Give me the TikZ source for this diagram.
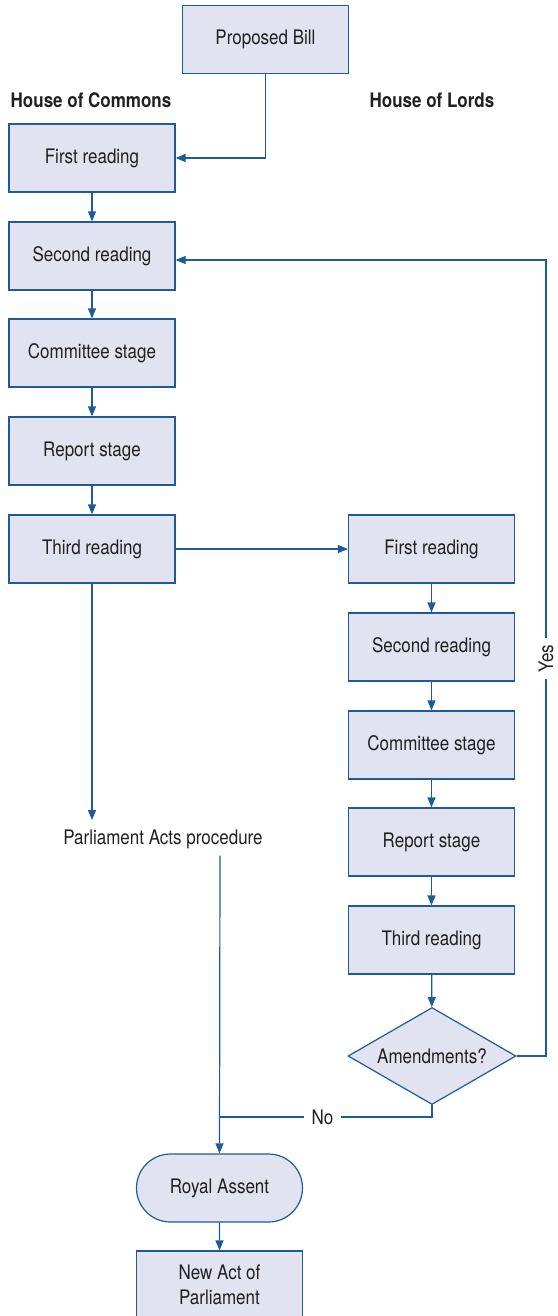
\documentclass[tikz,border=0pt]{standalone}
\usepackage{fontspec}
\setmainfont{TeX Gyre Heros}[FakeStretch=0.85]
\usetikzlibrary{arrows.meta,shapes.geometric,shapes.misc}
\definecolor{bfill}{HTML}{E1E3F0}
\definecolor{bline}{HTML}{1F5A9A}
\definecolor{txt}{HTML}{231F20}
\tikzset{
  stagebox/.style={draw=bline,fill=bfill,line width=1.2pt,minimum width=166pt,minimum height=68pt,inner sep=0pt,font=\fontsize{20}{25}\selectfont,text=txt,align=center},
  roundbox/.style={stagebox,rounded rectangle},
  decision/.style={draw=bline,fill=bfill,line width=1.2pt,diamond,minimum width=168pt,minimum height=97pt,inner sep=0pt,font=\fontsize{20}{24}\selectfont,text=txt,aspect=1.73},
  plain/.style={font=\fontsize{20}{24}\selectfont,text=txt,inner sep=1pt},
  head/.style={font=\fontsize{20}{24}\selectfont\bfseries,text=txt},
  conn/.style={draw=bline,line width=1.2pt},
  arr/.style={conn,-{Triangle[length=10pt,width=8pt]}}
}
\begin{document}
\begin{tikzpicture}[x=1pt,y=-1pt]
\useasboundingbox (0,0) rectangle (557,1316);
\node[stagebox] (bill) at (265.5,39.5) {Proposed Bill};
\node[head] (hc) at (91,100) {House of Commons};
\node[head] (hl) at (432,100) {House of Lords};
\node[stagebox] (c1) at (92,158) {First reading};
\node[stagebox] (c2) at (92,256) {Second reading};
\node[stagebox] (c3) at (92,353) {Committee stage};
\node[stagebox] (c4) at (92,451) {Report stage};
\node[stagebox] (c5) at (92,549) {Third reading};
\node[stagebox] (l1) at (431.5,549) {First reading};
\node[stagebox] (l2) at (431.5,647) {Second reading};
\node[stagebox] (l3) at (431.5,745) {Committee stage};
\node[stagebox] (l4) at (431.5,842) {Report stage};
\node[stagebox] (l5) at (431.5,940) {Third reading};
\node[decision] (am) at (432,1056) {Amendments?};
\node[plain] (pa) at (163,839) {Parliament Acts procedure};
\node[roundbox] (ra) at (219.5,1188) {Royal Assent};
\node[stagebox] (na) at (219.5,1285) {New Act of\\Parliament};
\coordinate (yesc) at (546,1056);
\coordinate (yest) at (546,260);
\node[plain,rotate=90,inner xsep=6pt] (yes) at (546,658.5) {Yes};
\coordinate (noc) at (432,1117);
\node[plain,inner xsep=7.5pt] (no) at (322.5,1117) {No};
\coordinate (noj) at (220,1117);
\coordinate (pat) at (92,820);
\draw[arr] (bill.south) |- (c1.east);
\draw[arr] (c1) -- (c2);
\draw[arr] (c2) -- (c3);
\draw[arr] (c3) -- (c4);
\draw[arr] (c4) -- (c5);
\draw[arr] (c5) -- (l1);
\draw[arr] (l1) -- (l2);
\draw[arr] (l2) -- (l3);
\draw[arr] (l3) -- (l4);
\draw[arr] (l4) -- (l5);
\draw[arr] (l5) -- (am);
\draw[arr] (c5.south) -- (pat);
\draw[conn] (am.east) -- (yesc) -- (yes.west);
\draw[arr] (yes.east) -- (yest) -- (c2.east |- yest);
\draw[conn] (am.south) |- (no.east);
\draw[conn] (no.west) -- (noj);
\draw[arr] (pa.south -| noj) ++(0,6) -- (ra.north);
\draw[arr] (ra) -- (na);
\end{tikzpicture}
\end{document}
